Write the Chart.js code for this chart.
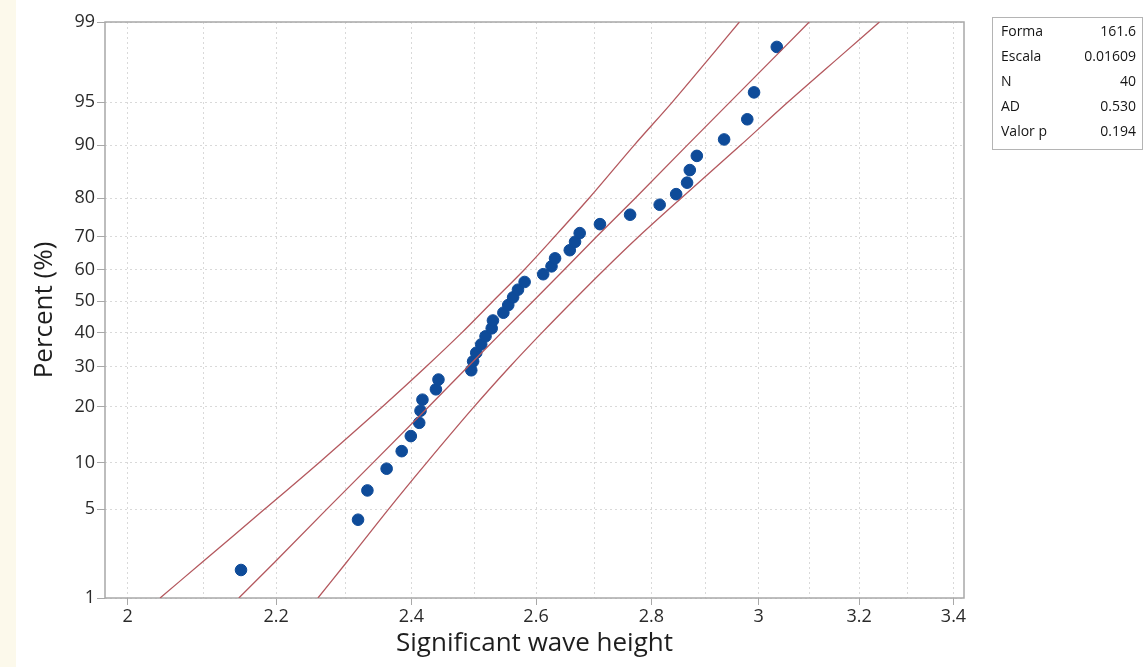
<!DOCTYPE html>
<html>
<head>
<meta charset="utf-8">
<script src="https://cdn.jsdelivr.net/npm/chart.js@4.4.1/dist/chart.umd.min.js"></script>
<style>
  html, body { margin: 0; padding: 0; background: #fff; }
</style>
</head>
<body>
<canvas id="myCanvas" width="1145" height="667"></canvas>
<script>
// sorted wave heights
const waveHeight = [2.151, 2.319, 2.333, 2.362, 2.385, 2.399, 2.412, 2.414, 2.417, 2.438,
  2.442, 2.494, 2.497, 2.502, 2.510, 2.517, 2.527, 2.529, 2.546, 2.554,
  2.562, 2.570, 2.581, 2.612, 2.626, 2.632, 2.657, 2.666, 2.674, 2.709,
  2.762, 2.815, 2.845, 2.865, 2.870, 2.883, 2.934, 2.978, 2.991, 3.035]
// plotted percent of each point
const percentRank = [1.73, 4.21, 6.68, 9.16, 11.63, 14.11, 16.58, 19.06, 21.53, 24.01,
  26.49, 28.96, 31.44, 33.91, 36.39, 38.86, 41.34, 43.81, 46.29, 48.76,
  51.24, 53.71, 56.19, 58.66, 61.14, 63.61, 66.09, 68.56, 71.04, 73.51,
  75.99, 78.47, 80.94, 83.42, 85.89, 88.37, 90.84, 93.32, 95.79, 98.27]

// fitted line and confidence band, read at these percents
const bandPercent = [1, 2, 5, 10, 20, 30, 40, 50, 60, 70, 80, 90, 95, 98, 99]
const fitLine = [2.148, 2.198, 2.273, 2.342, 2.427, 2.489, 2.543, 2.595, 2.647, 2.703, 2.771, 2.865, 2.945, 3.037, 3.099]
const lowerBand = [2.042, 2.098, 2.184, 2.262, 2.356, 2.423, 2.479, 2.529, 2.580, 2.631, 2.690, 2.769, 2.838, 2.913, 2.963]
const upperBand = [2.260, 2.302, 2.365, 2.424, 2.499, 2.557, 2.610, 2.662, 2.716, 2.777, 2.854, 2.965, 3.057, 3.167, 3.242]

const xTickValues = [2, 2.1, 2.2, 2.3, 2.4, 2.5, 2.6, 2.7, 2.8, 2.9, 3, 3.1, 3.2, 3.3, 3.4]
const xTickLabels = ["2", "", "2.2", "", "2.4", "", "2.6", "", "2.8", "", "3", "", "3.2", "", "3.4"]
const yTickValues = [1, 5, 10, 20, 30, 40, 50, 60, 70, 80, 90, 95, 99]

const statLabels = ["Forma", "Escala", "N", "AD", "Valor p"]
const statValues = ["161.6", "0.01609", "40", "0.530", "0.194"]
const shape = 161.6

const fontName = '"Open Sans", "Noto Sans", sans-serif'
const lineColor = "#b4585e"
const dotColor = "#0e4b99"

// inverse normal cdf (Acklam)
function normInv(p) {
  const a = [-3.969683028665376e1, 2.209460984245205e2, -2.759285104469687e2, 1.38357751867269e2, -3.066479806614716e1, 2.506628277459239]
  const b = [-5.447609879822406e1, 1.615858368580409e2, -1.556989798598866e2, 6.680131188771972e1, -1.328068155288572e1]
  const c = [-7.784894002430293e-3, -3.223964580411365e-1, -2.400758277161838, -2.549732539343734, 4.374664141464968, 2.938163982698783]
  const d = [7.784695709041462e-3, 3.224671290700398e-1, 2.445134137142996, 3.754408661907416]
  const lo = 0.02425
  let q, r
  if (p < lo) {
    q = Math.sqrt(-2 * Math.log(p))
    return (((((c[0] * q + c[1]) * q + c[2]) * q + c[3]) * q + c[4]) * q + c[5]) / ((((d[0] * q + d[1]) * q + d[2]) * q + d[3]) * q + 1)
  }
  if (p > 1 - lo) {
    q = Math.sqrt(-2 * Math.log(1 - p))
    return -(((((c[0] * q + c[1]) * q + c[2]) * q + c[3]) * q + c[4]) * q + c[5]) / ((((d[0] * q + d[1]) * q + d[2]) * q + d[3]) * q + 1)
  }
  q = p - 0.5
  r = q * q
  return (((((a[0] * r + a[1]) * r + a[2]) * r + a[3]) * r + a[4]) * r + a[5]) * q / (((((b[0] * r + b[1]) * r + b[2]) * r + b[3]) * r + b[4]) * r + 1)
}

// gamma probability paper: log of the gamma quantile (Wilson-Hilferty)
function probPos(pct) {
  const z = normInv(pct / 100)
  return 3 * Math.log(1 - 1 / (9 * shape) + z / (3 * Math.sqrt(shape)))
}

function toLine(xs) {
  return xs.map((x, i) => ({ x: x, y: probPos(bandPercent[i]) }))
}

const framePlugin = {
  id: "frame",
  beforeDraw(chart) {
    const ctx = chart.ctx
    ctx.save()
    ctx.fillStyle = "#ffffff"
    ctx.fillRect(0, 0, chart.width, chart.height)
    ctx.fillStyle = "#fcf9eb"
    ctx.fillRect(0, 0, 16, chart.height)
    ctx.restore()
  },
  beforeDatasetsDraw(chart) {
    const { left, top, right, bottom } = chart.chartArea
    const ctx = chart.ctx
    ctx.save()
    ctx.strokeStyle = "#a8a8a8"
    ctx.lineWidth = 1.5
    ctx.strokeRect(left, top, right - left, bottom - top)
    ctx.restore()
  },
  afterDraw(chart) {
    const ctx = chart.ctx
    ctx.save()
    ctx.strokeStyle = "#b4b4b4"
    ctx.lineWidth = 1
    ctx.strokeRect(992.5, 17.5, 150, 132)
    ctx.fillStyle = "#151515"
    ctx.font = "14px " + fontName
    ctx.textBaseline = "middle"
    statLabels.forEach((label, i) => {
      const y = 32 + i * 25
      ctx.textAlign = "left"
      ctx.fillText(label, 1001, y)
      ctx.textAlign = "right"
      ctx.fillText(statValues[i], 1136, y)
    })
    ctx.restore()
  },
}

const ctx = document.getElementById("myCanvas").getContext("2d")

new Chart(ctx, {
  type: "scatter",
  data: {
    datasets: [
      {
        label: "lower",
        data: toLine(lowerBand),
        showLine: true,
        borderColor: lineColor,
        borderWidth: 1.3,
        pointRadius: 0,
        tension: 0.3,
      },
      {
        label: "fit",
        data: toLine(fitLine),
        showLine: true,
        borderColor: lineColor,
        borderWidth: 1.3,
        pointRadius: 0,
      },
      {
        label: "upper",
        data: toLine(upperBand),
        showLine: true,
        borderColor: lineColor,
        borderWidth: 1.3,
        pointRadius: 0,
        tension: 0.3,
      },
      {
        label: "Significant wave height",
        data: waveHeight.map((x, i) => ({ x: x, y: probPos(percentRank[i]) })),
        backgroundColor: dotColor,
        borderColor: dotColor,
        pointRadius: 5.8,
        pointHoverRadius: 5.8,
      },
    ],
  },
  options: {
    responsive: false,
    animation: false,
    layout: { padding: { top: 22, right: 181, bottom: 0, left: 0 } },
    plugins: {
      legend: { display: false },
      tooltip: { enabled: false },
    },
    scales: {
      x: {
        type: "logarithmic",
        min: 1.971,
        max: 3.423,
        bounds: "data",
        afterBuildTicks: (scale) => {
          scale.ticks = xTickValues.map((v) => ({ value: v }))
        },
        afterFit: (scale) => {
          scale.height = 69
        },
        ticks: {
          autoSkip: false,
          maxRotation: 0,
          padding: 1,
          color: "#2a2a2a",
          font: { family: fontName, size: 18 },
          callback: (v, i) => xTickLabels[i],
        },
        grid: {
          color: "#d9d9d9",
          lineWidth: 1,
          borderDash: [2, 3],
          tickLength: 7,
          tickBorderDash: [],
          tickColor: (c) => (xTickLabels[c.index] ? "#a8a8a8" : "rgba(0,0,0,0)"),
        },
        border: { display: false, dash: [2, 3] },
        title: {
          display: true,
          text: "Significant wave height",
          color: "#1e1e1e",
          font: { family: fontName, size: 26 },
          padding: { top: 0, bottom: 8 },
        },
      },
      y: {
        type: "linear",
        min: probPos(1),
        max: probPos(99),
        bounds: "data",
        afterBuildTicks: (scale) => {
          scale.ticks = yTickValues.map((p) => ({ value: probPos(p) }))
        },
        afterFit: (scale) => {
          scale.width = 105
        },
        ticks: {
          autoSkip: false,
          padding: 2,
          color: "#2a2a2a",
          font: { family: fontName, size: 18 },
          callback: (v, i) => String(yTickValues[i]),
        },
        grid: {
          color: "#d9d9d9",
          lineWidth: 1,
          borderDash: [2, 3],
          tickLength: 8,
          tickBorderDash: [],
          tickColor: "#a8a8a8",
        },
        border: { display: false, dash: [2, 3] },
        title: {
          display: true,
          text: "Percent (%)",
          color: "#1e1e1e",
          font: { family: fontName, size: 26 },
          padding: { top: 29, bottom: 0 },
        },
      },
    },
  },
  plugins: [framePlugin],
})
</script>
</body>
</html>
